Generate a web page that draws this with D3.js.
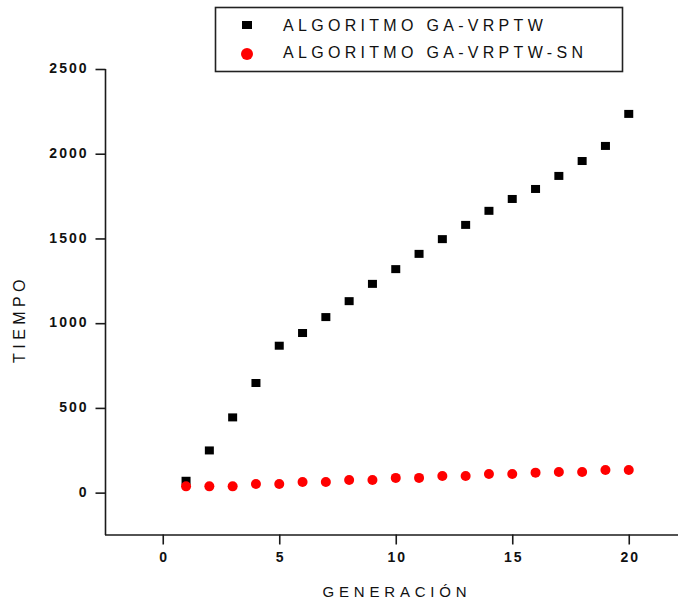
<!DOCTYPE html>
<html>
<head>
<meta charset="utf-8">
<script src="https://cdn.jsdelivr.net/npm/d3@7"></script>
<style>
  html, body { margin: 0; padding: 0; background: #fff; }
  svg { display: block; }
  text { font-family: "Liberation Sans", Arial, sans-serif; fill: #111; }
</style>
</head>
<body>
<svg id="chart" width="678" height="606"></svg>
<script>
// ---- data ----
const generations = [1,2,3,4,5,6,7,8,9,10,11,12,13,14,15,16,17,18,19,20];
const tiempoGA = [70,249,444,647,867,942,1036,1130,1232,1319,1409,1496,1580,1663,1733,1792,1869,1957,2046,2235];
const tiempoSN = [37,37,37,51,51,63,63,75,75,87,87,98,98,110,110,118,122,122,134,134];
const seriesNames = ["ALGORITMO GA-VRPTW", "ALGORITMO GA-VRPTW-SN"];
const xMajorTicks = [0,5,10,15,20];
const xMinorTicks = [-2.5,2.5,7.5,12.5,17.5,22.5];
const yMajorTicks = [0,500,1000,1500,2000,2500];
const yMinorTicks = [-250,250,750,1250,1750,2250];
const xTitle = "GENERACIÓN";
const yTitle = "TIEMPO";

const svg = d3.select("#chart");
const x = d3.scaleLinear().domain([-2.5, 22.5]).range([104.5, 687]);
const y = d3.scaleLinear().domain([-250, 2500]).range([535, 69]);
const axisColor = "#1a1a1a";

// x axis
const gx = svg.append("g").attr("transform", "translate(0,534.5)");
gx.call(d3.axisBottom(x).tickValues(xMinorTicks).tickSize(5).tickSizeOuter(0).tickFormat(""));
gx.call(d3.axisBottom(x).tickValues(xMajorTicks).tickSize(10).tickSizeOuter(0).tickFormat(d3.format("d")));
gx.selectAll("path.domain").attr("stroke", axisColor).attr("stroke-width", 1.6);
gx.selectAll("line").attr("stroke", axisColor).attr("stroke-width", 1.6);
gx.selectAll("text")
  .attr("y", 0).attr("dy", null)
  .attr("transform", "translate(1,24)")
  .attr("dominant-baseline", "middle")
  .style("font-size", "14px").style("font-weight", "bold").style("letter-spacing", "2px")
  .style("fill", "#111");

// y axis
const gy = svg.append("g").attr("transform", "translate(105.5,0)");
gy.call(d3.axisLeft(y).tickValues(yMinorTicks).tickSize(5).tickSizeOuter(0).tickFormat(""));
gy.call(d3.axisLeft(y).tickValues(yMajorTicks).tickSize(10).tickSizeOuter(0).tickFormat(d3.format("d")));
gy.selectAll("path.domain").attr("stroke", axisColor).attr("stroke-width", 1.6);
gy.selectAll("line").attr("stroke", axisColor).attr("stroke-width", 1.6);
gy.selectAll("text")
  .attr("x", -17).attr("dy", null)
  .attr("dominant-baseline", "middle")
  .style("font-size", "14px").style("font-weight", "bold").style("letter-spacing", "2px")
  .style("fill", "#111");
gy.selectAll("path.domain").attr("d", `M0,${y(-250)}V${y(2500)}`);

// titles
svg.append("text")
  .attr("x", 397).attr("y", 593)
  .attr("text-anchor", "middle").attr("dominant-baseline", "middle")
  .style("font-size", "15px").style("letter-spacing", "4.8px")
  .text(xTitle);
svg.append("text")
  .attr("transform", "translate(21,319) rotate(-90)")
  .attr("text-anchor", "middle").attr("dominant-baseline", "middle")
  .style("font-size", "16px").style("letter-spacing", "4.4px")
  .text(yTitle);

// data points
const ptsGA = generations.map((g, i) => ({g, v: tiempoGA[i]}));
const ptsSN = generations.map((g, i) => ({g, v: tiempoSN[i]}));
svg.append("g").selectAll("rect").data(ptsGA).join("rect")
  .attr("x", d => x(d.g) - 4.5).attr("y", d => y(d.v) - 4)
  .attr("width", 9).attr("height", 8)
  .attr("fill", "#000");
svg.append("g").selectAll("circle").data(ptsSN).join("circle")
  .attr("cx", d => x(d.g)).attr("cy", d => y(d.v))
  .attr("r", 5)
  .attr("fill", "#ff0000");

// legend
const lg = svg.append("g");
lg.append("rect").attr("x", 215.5).attr("y", 7.5).attr("width", 407).attr("height", 64)
  .attr("fill", "#fff").attr("stroke", "#222").attr("stroke-width", 1.6);
lg.append("rect").attr("x", 242).attr("y", 21).attr("width", 10).attr("height", 8).attr("fill", "#000");
lg.append("circle").attr("cx", 247).attr("cy", 54).attr("r", 6).attr("fill", "#ff0000");
lg.selectAll("text.lab").data(seriesNames).join("text").attr("class", "lab")
  .attr("x", 283).attr("y", (d, i) => 27 + i * 27)
  .attr("dominant-baseline", "middle")
  .style("font-size", "16px").style("letter-spacing", "4.3px")
  .text(d => d);
</script>
</body>
</html>
